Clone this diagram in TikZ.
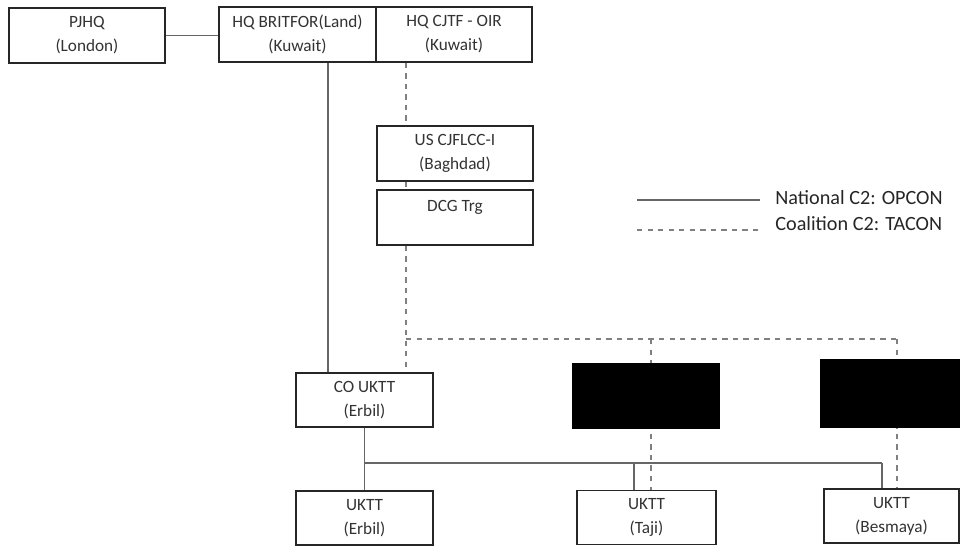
\documentclass[tikz,border=0pt]{standalone}
\usepackage{fontspec}
\setmainfont{Carlito}
\usetikzlibrary{calc, backgrounds}

\begin{document}
\begin{tikzpicture}[x=0.02cm, y=-0.02cm,
    unit/.style={draw=black!85, line width=0.9pt, fill=white, align=center,
        text=black!80, font=\fontsize{9.8}{13.6}\selectfont,
        minimum height=1.1cm, inner sep=0pt},
    redacted/.style={draw=black, fill=black, inner sep=0pt},
    opcon/.style={draw=black!60, line width=0.7pt},
    tacon/.style={draw=black!50, line width=0.6pt, dash pattern=on 3pt off 3pt},
    keytext/.style={anchor=west, inner xsep=0.3cm, inner ysep=0pt,
        text=black!85, font=\fontsize{11.5}{14}\selectfont}]
    \useasboundingbox (0,0) rectangle (960,546);

    % Top row: UK and coalition headquarters
    \node[unit, minimum width=3.12cm] (pjhq) at (87,35.5) {PJHQ\\(London)};
    \node[unit, minimum width=3.14cm] (britfor) at (297.5,34.5) {HQ BRITFOR(Land)\\(Kuwait)};
    \node[unit, minimum width=3.12cm] (cjtf) at (454,34.5) {HQ CJTF - OIR\\(Kuwait)};

    % Coalition chain down to the training teams
    \node[unit, minimum width=3.12cm] (cjflcc) at (455,153.5) {US CJFLCC-I\\(Baghdad)};
    \node[unit, minimum width=3.12cm] (dcg) at (455,217.5) {DCG Trg\\\mbox{}};

    % Command node and the three teams
    \node[unit, minimum width=2.74cm, minimum height=1.08cm] (coktt) at (364.5,400) {CO UKTT\\(Erbil)};
    \node[redacted, minimum width=2.94cm, minimum height=1.3cm] (hidA) at (645.5,395.5) {};
    \node[redacted, minimum width=2.84cm, minimum height=1.36cm] (hidB) at (891,393) {};
    \node[unit, minimum width=2.74cm, minimum height=1.08cm] (kttE) at (364.5,518) {UKTT\\(Erbil)};
    \node[unit, minimum width=2.78cm, minimum height=1.08cm] (kttT) at (646.5,517.5) {UKTT\\(Taji)};
    \node[unit, minimum width=2.70cm, minimum height=1.08cm] (kttB) at (891.5,516) {UKTT\\(Besmaya)};

    % Drop points of the two command chains
    \coordinate (natdrop) at (328,0);
    \coordinate (coaldrop) at (406,0);
    \coordinate (natbar) at (0,463);
    \coordinate (coalbar) at (0,339);
    \coordinate (tajiN) at (634,463);
    \coordinate (besN) at (882,463);
    \coordinate (tajiC) at (651,339);
    \coordinate (besC) at (897,339);

    \begin{pgfonlayer}{background}
        % National C2 (solid)
        \draw[opcon] (pjhq.east) -- (pjhq.east -| britfor.west);
        \draw[opcon] (britfor.south -| natdrop) -- (coktt.north -| natdrop);
        \draw[opcon] (coktt.south) -- (kttE.north);
        \draw[opcon] (coktt.south |- natbar) -- (besN);
        \foreach \p/\t in {tajiN/kttT, besN/kttB}{
            \draw[opcon] (\p) -- (\p |- \t.north);
        }

        % Coalition C2 (dashed)
        \draw[tacon] (cjtf.south -| coaldrop) -- (cjflcc.north -| coaldrop);
        \draw[tacon] (cjflcc.south -| coaldrop) -- (dcg.north -| coaldrop);
        \draw[tacon] (dcg.south -| coaldrop) -- (coktt.north -| coaldrop);
        \draw[tacon] (coaldrop |- coalbar) -- (besC);
        \foreach \p/\t in {tajiC/kttT, besC/kttB}{
            \draw[tacon] (\p) -- (\p |- \t.north);
        }
    \end{pgfonlayer}

    % Key
    \node[keytext] (natkey) at (760,198) {National C2: OPCON};
    \node[keytext] (coalkey) at (760,224) {Coalition C2: TACON};
    \coordinate (natstart) at (637,200);
    \coordinate (coalstart) at (637,230);
    \draw[opcon] (natstart) -- (natstart -| natkey.west);
    \draw[tacon] (coalstart) -- (coalstart -| coalkey.west);
\end{tikzpicture}
\end{document}
